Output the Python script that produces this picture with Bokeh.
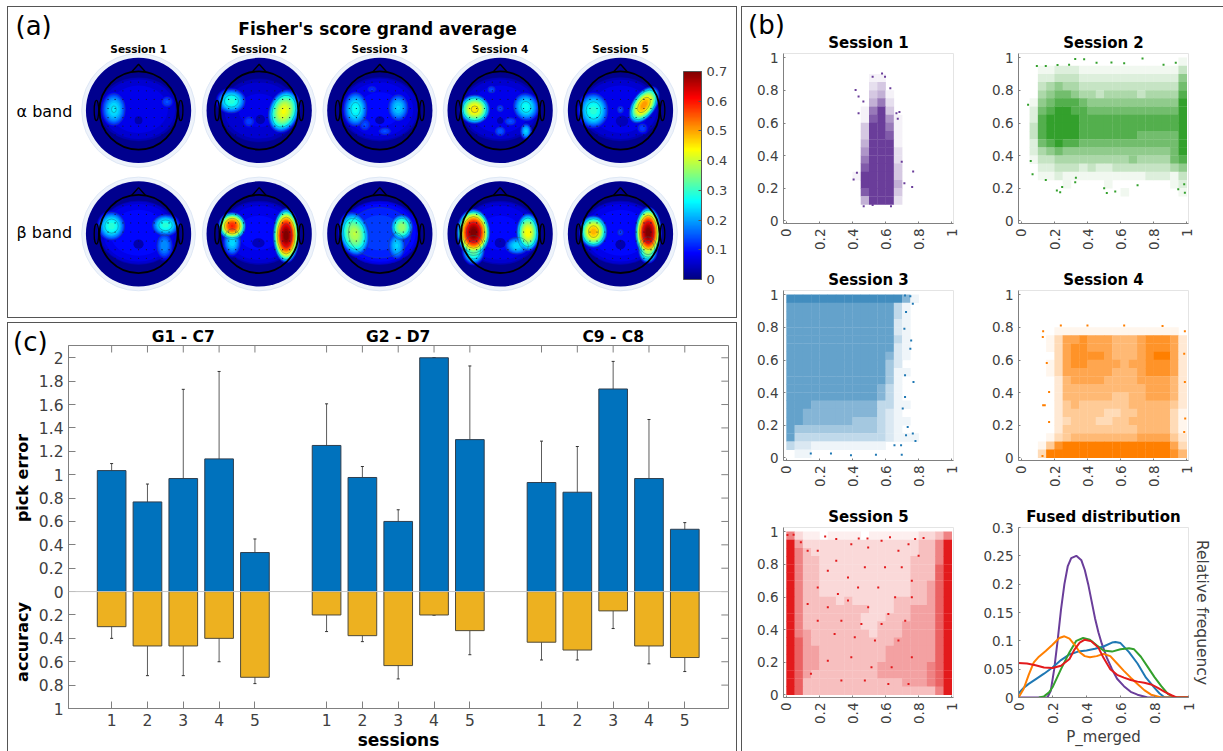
import numpy as np
from math import pi
from bokeh.embed import file_html
from bokeh.resources import INLINE
from bokeh.plotting import figure
from bokeh.layouts import row, column
from bokeh.models import (ColumnDataSource, Range1d, Label, LinearAxis, FixedTicker, Whisker, TeeHead,
                          ColorBar, LinearColorMapper, Span, Div)

FONT = "DejaVu Sans"
TXT = "#404040"
AX = "#808080"

# ------------------------------------------------------------- panel (a) data
SESSIONS = ["Session 1", "Session 2", "Session 3", "Session 4", "Session 5"]
BANDS = ["\u03b1 band", "\u03b2 band"]
CBAR_TICKS = [0, 0.1, 0.2, 0.3, 0.4, 0.5, 0.6, 0.7]
CBAR_LABELS = ["0", "0.1", "0.2", "0.3", "0.4", "0.5", "0.6", "0.7"]
# Fisher-score patches: (x, y, x-radius, y-radius, tilt, score) in head radii
ALPHA_MAPS = [
    [(0, .03, 1.02, .82, 0, .09), (-.63, .03, .36, .5, 0, .26), (.73, .22, .22, .2, 0, .15), (0, -.25, .1, .1, 0, .03)],
    [(0, .0, 1.02, .82, 0, .08), (-.71, .24, .42, .36, 0, .3), (.63, -.02, .42, .6, -.3, .44), (-.26, -.28, .22, .22, 0, .14), (.03, -.23, .12, .12, 0, .03)],
    [(0, .03, 1.02, .82, 0, .1), (-.62, .03, .36, .52, 0, .28), (.47, .07, .32, .42, 0, .24), (-.38, -.36, .22, .24, 0, .15), (.13, -.53, .25, .15, 0, .15), (-.2, .54, .22, .15, 0, .13), (0, -.25, .12, .1, 0, .03)],
    [(0, .03, 1.02, .82, 0, .09), (-.65, .03, .42, .4, 0, .47), (.66, .09, .38, .42, .3, .28), (.66, -.53, .17, .24, 0, .24), (0, -.53, .2, .18, 0, .16), (.26, -.28, .24, .16, 0, .15), (0, .05, .14, .14, 0, .15), (-.22, .53, .16, .14, 0, .15), (0, -.26, .08, .08, 0, .03)],
    [(0, .03, 1.02, .82, 0, .09), (-.69, 0, .44, .52, 0, .3), (.6, .14, .32, .56, -.6, .52), (0, .02, .13, .15, 0, .15), (.56, -.45, .2, .2, 0, .14), (.04, -.27, .16, .14, 0, .04)],
]
BETA_MAPS = [
    [(0, .03, 1.02, .82, 0, .11), (-.69, .2, .4, .42, 0, .3), (.69, .22, .4, .32, 0, .3), (.66, -.3, .27, .42, 0, .2), (0, -.26, .13, .12, 0, .03)],
    [(0, .03, 1.02, .82, 0, .1), (-.69, .2, .37, .37, 0, .6), (-.69, -.2, .27, .42, 0, .25), (.69, -.04, .35, .72, 0, .72), (-.02, -.23, .16, .12, 0, .04)],
    [(0, .03, 1.02, .82, 0, .14), (-.65, 0, .42, .62, .2, .4), (.56, .17, .32, .37, 0, .38), (.43, -.3, .27, .42, 0, .24), (0, -.28, .12, .12, 0, .03)],
    [(0, .03, 1.02, .82, 0, .1), (-.68, .04, .44, .62, 0, .72), (-.68, -.4, .32, .42, 0, .35), (.71, .04, .32, .52, 0, .45), (.43, -.3, .37, .27, 0, .25), (0, -.23, .14, .13, 0, .04)],
    [(0, .03, 1.02, .82, 0, .11), (-.69, .06, .38, .44, 0, .5), (.71, .04, .35, .67, 0, .72), (.7, -.4, .27, .37, 0, .4), (0, .04, .14, .15, 0, .14), (0, -.27, .13, .12, 0, .03)],
]
ELECTRODE_X = [-.78, -.6, -.4, -.2, 0, .2, .4, .6, .78]
ELECTRODE_Y = [.72, .5, .28, .05, -.18, -.4, -.62]

# ------------------------------------------------------------- panel (b) data
# The clouds hold thousands of dots: their density is read per 0.05 x 0.05 cell (0 empty - 9 solid),
# rows from y=1 downwards; only dots that can be told apart are listed one by one.
S1_DENSITY = ["00000000000000000000", "00000000000000000000", "00000000001100000000", "00000000002300000000",
              "00000000003410000000", "00000000004620000000", "00000000016930000000", "00000000017951000000",
              "00000000038961000000", "00000000039971000000", "00000000049981000000", "00000000059992000000",
              "00000000069992000000", "00000000079993000000", "00000000189993000000", "00000000089994000000",
              "00000000079993000000", "00000000048982000000", "00000000000000000000", "00000000000000000000"]
S2_DENSITY = ["00000000000000000001", "00112221111111111113", "00223332222222222225", "00345443333333333336",
              "00456654434444344447", "01567776555555555558", "02678877666666666669", "02789887777777777779",
              "03789887777777777779", "03789887777777666669", "02678776666666666669", "02456555555555555568",
              "01334444444445444467", "00223332322333333345", "00112111111111122213", "00000100001000000012",
              "00000000000010000001", "00000000000000000000", "00000000000000000000", "00000000000000000000"]
S3_DENSITY = ["77777777777777510000", "66666666666663100000", "66666666666663100000", "66666666666662100000",
              "66666666666662100000", "66666666666663100000", "66666666666662100000", "66666666666652100000",
              "66666666666642000000", "66666666666641100000", "66666666666641000000", "66666666666531000000",
              "66666666666531000000", "66655555555331100000", "66555555555321000000", "66555555444321100000",
              "64444444444321000000", "63333333333321110000", "32211111111100000000", "01100000000000000000"]
S4_DENSITY = ["00000000000000000000", "00000000000000000000", "00000000000000000000", "00000000000000000000",
              "00001111111111111110", "00013667666555677762", "00013677666555677762", "00003677776555678862",
              "00013677666656677762", "00013666666555677762", "00002566665555666652", "00002555555555566652",
              "00002555555445566652", "00002454444445555542", "00002444443344555531", "00002344433445555531",
              "00002444444444555531", "00013455555555666642", "00147889988888888863", "00389999999999999975"]
S5_DENSITY = ["52110111101111112235", "94222222222222223358", "95322222222222223359", "95332222222222233359",
              "95332222222222233369", "95332222222222233369", "95332222222222233469", "95332222222222233469",
              "95333323222223333469", "95333333332223344469", "95333333322233344469", "95333333322333444469",
              "95433333332333444469", "96433333333334444469", "96443333333344444469", "96443333333344444469",
              "96443333333444444569", "96433333333444444569", "96333333333333444569", "96333333333333333359"]
S1_X = [.418, .436, .521, .578, .596, .766, .76, .713, .697, .683, .673, .406, .426, .436, .465, .628, .632, .467, .521, .665]
S1_Y = [.803, .762, .884, .904, .884, .303, .207, .23, .362, .667, .626, .254, .295, .66, .732, .813, .09, .09, .097, .66]
S2_X = [.214, .234, .325, .516, .5, .567, .702, .732, .325, .379, .454, .544, .621, .04, .056, .067, .093, .147, .218, .288, .859, .933, .948, .984, .988, .246, .147, .329]
S2_Y = [.186, .176, .237, .171, .2, .18, .218, .996, .992, .99, .97, .971, .967, .712, .367, .286, .949, .949, .955, .957, .957, .969, .194, .224, .173, .208, .251, .265]
S3_X = [.768, .733, .764, .78, .723, .693, .697, .764, .749, .717, .754, .749, .713, .723, .717, .703, .717, .541, .39, .269, .147, .653]
S3_Y = [.465, .19, .149, .104, .139, .078, .02, .945, .99, .996, .72, .669, .792, .894, .506, .302, .373, .02, .016, .027, .027, .078]
S4_X = [.131, .129, .131, .141, .127, .153, .167, .167, .238, .399, .621, .853, .988, .984, .988, .99, .984]
S4_Y = [.776, .741, .322, .322, .012, .582, .404, .22, .812, .812, .812, .808, .776, .639, .465, .241, .159]
S5_X = [.043, .006, .234, .49, .626, .437, .778, .829, .301, .087, .128, .189, .301, .392, .494, .575, .677, .738, .799, .25, .372, .474, .596, .697, .758, .189, .311, .433, .555, .657, .758, .128, .25, .372, .494, .616, .718, .189, .332, .453, .575, .677, .291, .413, .535, .392, .25, .514, .636, .758, .148, .332, .474, .616, .738]
S5_Y = [.982, .98, .971, .959, .967, .959, .955, .961, .955, .935, .884, .884, .822, .924, .904, .945, .884, .924, .853, .761, .72, .782, .782, .782, .7, .659, .618, .659, .659, .598, .598, .557, .537, .578, .537, .496, .455, .455, .455, .435, .435, .333, .373, .353, .333, .231, .21, .169, .169, .231, .129, .088, .088, .067, .067]
SCATTER_COLORS = ["#6a3d9a", "#33a02c", "#1f78b4", "#ff7f00", "#e31a1c"]

FUSED_X = {
    "s1": [0, .17, .19, .21, .23, .25, .27, .29, .31, .34, .37, .39, .41, .43, .45, .47, .49, .52, .55, .58, .62, .66, .7, .76, 1],
    "s2": [.12, .15, .18, .2, .25, .3, .34, .38, .42, .46, .5, .55, .6, .65, .68, .72, .76, .8, .84, .88, .92, 1],
    "s3": [0, .03, .06, .1, .15, .2, .25, .3, .35, .4, .45, .5, .55, .57, .6, .65, .7, .75, .8, .83, .86, 1],
    "s4": [0, .03, .06, .09, .12, .16, .2, .24, .27, .3, .33, .36, .39, .42, .46, .5, .54, .58, .62, .66, .7, .74, .78, .84, 1],
    "s5": [0, .05, .1, .15, .2, .25, .3, .33, .36, .39, .43, .47, .5, .54, .58, .62, .66, .7, .74, .78, .82, .86, .9, .93, 1],
}
FUSED_Y = {
    "s1": [0, 0, .012, .05, .1, .155, .2, .232, .246, .25, .242, .225, .2, .17, .14, .115, .095, .07, .05, .033, .02, .01, .005, 0, 0],
    "s2": [0, .002, .009, .018, .05, .08, .1, .105, .102, .092, .083, .081, .085, .087, .085, .072, .054, .036, .02, .006, 0, 0],
    "s3": [.007, .017, .024, .032, .042, .053, .066, .076, .081, .083, .086, .09, .097, .098, .096, .08, .06, .035, .017, .007, 0, 0],
    "s4": [0, .015, .04, .062, .072, .082, .093, .105, .108, .104, .093, .08, .073, .071, .073, .077, .073, .06, .047, .035, .024, .013, .005, 0, 0],
    "s5": [.061, .06, .057, .053, .052, .056, .068, .085, .097, .102, .099, .088, .07, .05, .04, .035, .031, .028, .026, .023, .017, .01, .004, 0, 0],
}
UNIT_TICKS = [0, .2, .4, .6, .8, 1]
FUSED_TICKS = [0, .05, .1, .15, .2, .25, .3]

# ------------------------------------------------------------- panel (c) data
GROUPS = ["G1 - C7", "G2 - D7", "C9 - C8"]
GROUP_POS = [3, 9, 15]
BAR_POS = [1, 2, 3, 4, 5, 7, 8, 9, 10, 11, 13, 14, 15, 16, 17]
BAR_LABELS = ["1", "2", "3", "4", "5"] * 3
PICK_ERROR = [1.035, .767, .967, 1.135, .334, 1.25, .976, .6, 2, 1.3, .933, .85, 1.733, .967, .533]
PICK_HI = [1.095, .92, 1.73, 1.883, .45, 1.606, 1.07, .7, 2, 1.93, 1.287, 1.241, 1.969, 1.472, .59]
PICK_LO = [.973, .613, .203, .382, .217, .899, .882, .5, 2, .673, .582, .459, 1.503, .459, .476]
ACCURACY = [.3, .465, .465, .4, .733, .2, .377, .633, .2, .334, .433, .5, .165, .465, .564]
ACC_HI = [.2, .214, .214, .2, .676, .06, .325, .514, .2, .12, .28, .419, .014, .311, .447]
ACC_LO = [.4, .719, .719, .6, .787, .342, .428, .747, .2, .54, .585, .585, .316, .618, .684]
Y_TICKS = [-1, -.8, -.6, -.4, -.2, 0, .2, .4, .6, .8, 1, 1.2, 1.4, 1.6, 1.8, 2]
Y_LABELS = ["1", "0.8", "0.6", "0.4", "0.2", "0", "0.2", "0.4", "0.6", "0.8", "1", "1.2", "1.4", "1.6", "1.8", "2"]


def jet(v):
    t = min(max(v / 0.7, 0), 1)
    ch = lambda c: int(255 * min(max(1.5 - abs(4 * t - c), 0), 1))
    return "#%02x%02x%02x" % (ch(3), ch(2), ch(1))


JET = [jet(0.7 * i / 255) for i in range(256)]


def tint(hexcol, a):
    c = [int(hexcol[i:i + 2], 16) for i in (1, 3, 5)]
    return "#%02x%02x%02x" % tuple(int(255 + (v - 255) * a) for v in c)


def text(p, x, y, s, size, bold=False, color="black", align="center", angle=0):
    p.add_layout(Label(x=x, y=y, text=s, text_font=FONT, text_font_size=f"{size}px",
                       text_font_style="bold" if bold else "normal", text_color=color,
                       text_align=align, text_baseline="middle", angle=angle))


def panel_mark(s, left, top):
    return Div(text=s, width=42, height=32, margin=0,
               styles={"position": "absolute", "left": f"{left}px", "top": f"{top}px", "font-family": FONT,
                       "font-size": "26px", "line-height": "32px", "color": "black", "z-index": "5"})


def side_label(s, left, top):
    return Div(text=s, width=100, height=20, margin=0,
               styles={"position": "absolute", "left": f"{left}px", "top": f"{top}px", "font-family": FONT,
                       "font-size": "16px", "font-weight": "bold", "line-height": "20px", "text-align": "center",
                       "color": "black", "transform": "rotate(-90deg)", "z-index": "5"})


# ------------------------------------------------------------- panel (a)
HEAD_X = [137.7, 258, 378.3, 498.3, 618.3]
HEAD_Y = [109.3, 232]
BAND_Y = [110, 231]
R = 39.0

pa = figure(width=730, height=312, x_range=Range1d(8, 736), y_range=Range1d(317, 7), output_backend="svg",
            toolbar_location=None, x_axis_location=None, y_axis_location=None, min_border=0,
            outline_line_color=None, styles={"border": "1px solid #555", "box-sizing": "border-box"})
pa.grid.visible = False

for hy, maps in zip(HEAD_Y, [ALPHA_MAPS, BETA_MAPS]):
    for hx, blobs in zip(HEAD_X, maps):
        pa.circle([hx], [hy], radius=56.7, fill_color="#eef3fb", line_color="#dfe8f5", line_width=1)
        pa.circle([hx], [hy], radius=52.5, fill_color=jet(0.01), line_color=None)
        layers = []
        for (cx, cy, rx, ry, tilt, peak) in blobs:
            if peak < 0.05:           # low spots: painted above the surrounding field
                layers.append((0.5, cx, cy, rx, ry, tilt, peak))
                continue
            base = rx > 1
            for lev in np.arange(0.02, peak, 0.018):
                s = (1 - (lev / peak) ** (4 if base else 1.2)) ** 0.5
                layers.append((lev, cx, cy, rx * s, ry * s, tilt, lev))
        layers.sort(key=lambda l: 0.115 if l[0] == 0.5 else l[0])
        pa.ellipse([hx + l[1] * R for l in layers], [hy - l[2] * R for l in layers],
                   width=[2 * l[3] * R for l in layers], height=[2 * l[4] * R for l in layers],
                   angle=[l[5] for l in layers], fill_color=[jet(l[6]) for l in layers], line_color=None)
        contours = [l for l in layers if any(abs(l[6] - c) < 0.009 for c in (0.11, 0.26, 0.45, 0.62))]
        pa.ellipse([hx + l[1] * R for l in contours], [hy - l[2] * R for l in contours],
                   width=[2 * l[3] * R for l in contours], height=[2 * l[4] * R for l in contours],
                   angle=[l[5] for l in contours], fill_color=None, line_color="#26566a", line_width=0.6, line_alpha=0.7)
        ex = [hx + a * R for a in ELECTRODE_X for b in ELECTRODE_Y if a * a + b * b < .85]
        ey = [hy - b * R for a in ELECTRODE_X for b in ELECTRODE_Y if a * a + b * b < .85]
        pa.scatter(ex, ey, size=1.2, color="#111133", line_color=None)
        pa.circle([hx], [hy], radius=R, fill_color=None, line_color="black", line_width=1.8)
        pa.line([hx - 7, hx, hx + 7], [hy - R + .8, hy - R - 7, hy - R + .8], line_color="black", line_width=1.4)
        pa.ellipse([hx - R - 3, hx + R + 3], [hy, hy], width=4.5, height=20, fill_color=None, line_color="black", line_width=1.3)

for hx, s in zip(HEAD_X, SESSIONS):
    text(pa, hx, 48, s, 10.5, bold=True)
for by, s in zip(BAND_Y, BANDS):
    text(pa, 16, by, s, 16, align="left")
text(pa, 15, 25, "(a)", 26, align="left")
text(pa, 376, 28, "Fisher's score grand average", 17, bold=True)
cb = ColorBar(color_mapper=LinearColorMapper(palette=JET, low=0, high=0.7), width=18, height=208,
              location=(675, 40), padding=0, margin=0, ticker=FixedTicker(ticks=CBAR_TICKS),
              major_label_overrides=dict(zip(CBAR_TICKS, CBAR_LABELS)), major_label_text_font=FONT,
              major_label_text_font_size="13px", major_label_text_color=TXT, major_tick_line_color="#555555",
              major_tick_in=3, bar_line_color="#555555", minor_tick_line_color=None, label_standoff=5)
pa.add_layout(cb)

# ------------------------------------------------------------- panel (c)
XMIN, XMAX, YMIN, YMAX = -.204, 18.22, -1, 2.105
pc = figure(width=730, height=429, x_range=Range1d(XMIN, XMAX), y_range=Range1d(YMIN, YMAX), output_backend="svg",
            toolbar_location=None, min_border_left=60, min_border_right=10, min_border_top=22, min_border_bottom=44,
            outline_line_color=AX, styles={"border": "1px solid #555", "border-bottom": "none", "box-sizing": "border-box"})
pc.grid.visible = False
pc.add_layout(Span(location=0, dimension="width", line_color="#c4c4c4", line_width=1))
pc.vbar(BAR_POS, top=PICK_ERROR, bottom=0, width=.8, fill_color="#0072BD", line_color="#2f3f4f", line_width=1)
pc.vbar(BAR_POS, top=0, bottom=[-a for a in ACCURACY], width=.8, fill_color="#EDB120", line_color="#4f4a3a", line_width=1)
src = ColumnDataSource(dict(x=BAR_POS + BAR_POS, hi=PICK_HI + [-a for a in ACC_HI], lo=PICK_LO + [-a for a in ACC_LO]))
pc.add_layout(Whisker(source=src, base="x", upper="hi", lower="lo", line_color="#333333", line_width=1, line_alpha=.8,
                      upper_head=TeeHead(size=3, line_color="#333333"), lower_head=TeeHead(size=3, line_color="#333333")))
# mirrored inward ticks on the top and right edges of the box
pc.segment(BAR_POS, [YMAX] * len(BAR_POS), BAR_POS, [YMAX - .06] * len(BAR_POS), line_color=AX, line_width=1)
pc.segment([XMAX] * len(Y_TICKS), Y_TICKS, [XMAX - .2] * len(Y_TICKS), Y_TICKS, line_color=AX, line_width=1)


def style_axis(ax, size, tick_in):
    ax.major_label_text_font = FONT
    ax.major_label_text_font_size = f"{size}px"
    ax.major_label_text_color = TXT
    ax.axis_line_color = AX
    ax.major_tick_line_color = AX
    ax.major_tick_in = tick_in
    ax.major_tick_out = 0
    ax.minor_tick_line_color = None


pc.xaxis.ticker = FixedTicker(ticks=BAR_POS)
pc.xaxis.major_label_overrides = dict(zip(BAR_POS, BAR_LABELS))
pc.yaxis.ticker = FixedTicker(ticks=Y_TICKS)
pc.yaxis.major_label_overrides = dict(zip(Y_TICKS, Y_LABELS))
style_axis(pc.xaxis[0], 15.5, 7)
style_axis(pc.yaxis[0], 15.5, 7)
pc.xaxis.axis_label = "sessions"
pc.xaxis.axis_label_text_font = FONT
pc.xaxis.axis_label_text_font_size = "17px"
pc.xaxis.axis_label_text_font_style = "bold"
pc.xaxis.axis_label_text_color = "black"
pc.xaxis.axis_label_standoff = 1

group_axis = LinearAxis(ticker=FixedTicker(ticks=GROUP_POS), major_label_overrides=dict(zip(GROUP_POS, GROUPS)),
                        major_label_text_font=FONT, major_label_text_font_size="15.5px", major_label_text_font_style="bold",
                        major_label_text_color="black", major_tick_line_color=None, minor_tick_line_color=None,
                        major_tick_in=0, major_tick_out=0, axis_line_color=None, major_label_standoff=0)
pc.add_layout(group_axis, "above")


# ------------------------------------------------------------- panel (b)
def small(title, xr, yr, h, w, top, bottom, left, right_):
    p = figure(width=w, height=h, x_range=Range1d(*xr), y_range=Range1d(*yr), output_backend="svg",
               toolbar_location=None, min_border_left=left, min_border_right=right_, min_border_top=top,
               min_border_bottom=bottom, outline_line_color="#e4e4e4", title=title)
    p.grid.visible = False
    p.title.text_font = FONT
    p.title.text_font_size = "15px"
    p.title.text_font_style = "bold"
    p.title.text_color = "black"
    p.title.align = "center"
    p.title.standoff = 3
    style_axis(p.xaxis[0], 13.5, 2)
    style_axis(p.yaxis[0], 13.5, 2)
    p.xaxis.major_label_orientation = pi / 2
    return p


DENS = [S1_DENSITY, S2_DENSITY, S3_DENSITY, S4_DENSITY, S5_DENSITY]
DOTS = [(S1_X, S1_Y), (S2_X, S2_Y), (S3_X, S3_Y), (S4_X, S4_Y), (S5_X, S5_Y)]
LAY = [(255, 237, 46, 39, 41, 26), (255, 244, 46, 39, 39, 35), (238, 237, 28, 40, 41, 26),
       (238, 244, 28, 40, 39, 35), (251, 237, 27, 54, 41, 26)]
scatter_figs = []
for k in range(5):
    h, w, t, b, l, r = LAY[k]
    p = small(SESSIONS[k], (-.018, 1.01), (-.016, 1.026), h, w, t, b, l, r)
    xs, ys, cols = [], [], []
    for ri, rowtxt in enumerate(DENS[k]):
        for ci, d in enumerate(rowtxt):
            if d != "0":
                xs.append(.025 + .05 * ci)
                ys.append(.975 - .05 * ri)
                cols.append(tint(SCATTER_COLORS[k], min(1, (int(d) / 8) ** 1.3)))
    p.rect(xs, ys, width=.052, height=.052, fill_color=cols, line_color=None)
    p.scatter(DOTS[k][0], DOTS[k][1], size=2, marker="square", color=SCATTER_COLORS[k], line_color=None)
    p.xaxis.ticker = FixedTicker(ticks=UNIT_TICKS)
    p.yaxis.ticker = FixedTicker(ticks=UNIT_TICKS)
    p.xaxis.major_label_overrides = {0: "0", 1: "1"}
    p.yaxis.major_label_overrides = {0: "0", 1: "1"}
    scatter_figs.append(p)

pf = small("Fused distribution", (0, 1), (0, .3), 251, 244, 27, 54, 39, 35)
for key, col in zip(["s1", "s3", "s2", "s4", "s5"], [SCATTER_COLORS[0], SCATTER_COLORS[2], SCATTER_COLORS[1], SCATTER_COLORS[3], SCATTER_COLORS[4]]):
    pf.line(FUSED_X[key], FUSED_Y[key], line_color=col, line_width=2)
pf.xaxis.ticker = FixedTicker(ticks=UNIT_TICKS)
pf.yaxis.ticker = FixedTicker(ticks=FUSED_TICKS)
pf.xaxis.major_label_overrides = {0: "0", 1: "1"}
pf.yaxis.major_label_overrides = dict(zip(FUSED_TICKS, ["0", "0.05", "0.1", "0.15", "0.2", "0.25", "0.3"]))
pf.xaxis.axis_label = "P_merged"
pf.xaxis.axis_label_text_font = FONT
pf.xaxis.axis_label_text_font_size = "15px"
pf.xaxis.axis_label_text_font_style = "normal"
pf.xaxis.axis_label_text_color = TXT
pf.xaxis.axis_label_standoff = 1
rt = LinearAxis(ticker=FixedTicker(ticks=[]), axis_line_color=None, major_tick_line_color=None, minor_tick_line_color=None,
                axis_label="Relative frequency", axis_label_text_font=FONT, axis_label_text_font_size="15.5px",
                axis_label_text_font_style="normal", axis_label_text_color=TXT, axis_label_standoff=4)
pf.add_layout(rt, "right")

left_col = column(row(pa), row(pc), spacing=4)
right_col = column(row(scatter_figs[0], scatter_figs[1], spacing=0),
                   row(scatter_figs[2], scatter_figs[3], spacing=0),
                   row(scatter_figs[4], pf, spacing=0), spacing=0,
                   styles={"border-left": "1px solid #555", "border-top": "1px solid #555"})
page = row(left_col, right_col, panel_mark("(b)", 741, 3), panel_mark("(c)", 6, 320),
           side_label("pick error", -34, 462), side_label("accuracy", -34, 626), spacing=4, margin=(6, 0, 0, 7))
open("out.html", "w").write(file_html(page, INLINE))
